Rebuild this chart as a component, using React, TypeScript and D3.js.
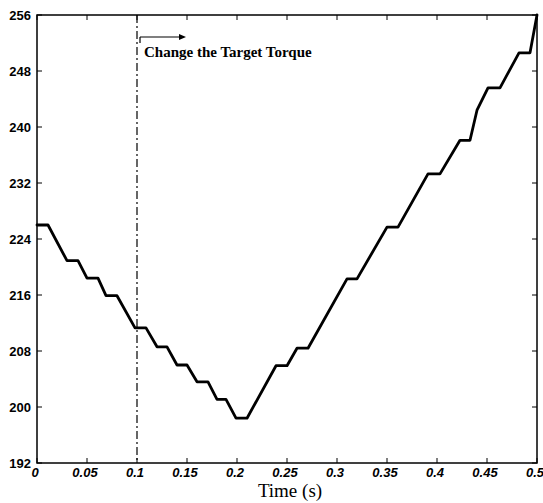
import React from "react";
import * as d3 from "d3";

const timeS = [
  0, 0.011, 0.03, 0.041, 0.05, 0.061, 0.069, 0.08, 0.098, 0.109, 0.12, 0.13,
  0.14, 0.15, 0.16, 0.171, 0.18, 0.189, 0.199, 0.21, 0.239, 0.25, 0.26,
  0.271, 0.31, 0.32, 0.35, 0.361, 0.391, 0.403, 0.423, 0.433, 0.44, 0.451,
  0.463, 0.482, 0.493, 0.5,
];
const values = [
  226, 226, 220.9, 220.9, 218.4, 218.4, 215.9, 215.9, 211.3, 211.3, 208.6,
  208.6, 206, 206, 203.6, 203.6, 201.1, 201.1, 198.4, 198.4, 205.9, 205.9,
  208.4, 208.4, 218.3, 218.3, 225.7, 225.7, 233.3, 233.3, 238.1, 238.1,
  242.4, 245.6, 245.6, 250.6, 250.6, 256,
];
const xTicks = [0, 0.05, 0.1, 0.15, 0.2, 0.25, 0.3, 0.35, 0.4, 0.45, 0.5];
const xTickLabels = ["0", "0.05", "0.1", "0.15", "0.2", "0.25", "0.3", "0.35", "0.4", "0.45", "0.5"];
const yTicks = [192, 200, 208, 216, 224, 232, 240, 248, 256];
const eventTime = 0.1;
const annotation = "Change the Target Torque";
const xLabel = "Time (s)";

export default function App() {
  const W = 543;
  const H = 503;
  const left = 37;
  const right = 537;
  const top = 15;
  const bottom = 463;
  const x = d3.scaleLinear().domain([0, 0.5]).range([left, right]);
  const y = d3.scaleLinear().domain([192, 256]).range([bottom, top]);
  const pts: [number, number][] = timeS.map((t, i) => [t, values[i]]);
  const line = d3
    .line<[number, number]>()
    .x((d) => x(d[0]))
    .y((d) => y(d[1]))
    .curve(d3.curveLinear);
  const tl = 5;
  const sans = "'Liberation Sans', Arial, sans-serif";
  const serif = "'Liberation Serif', 'Times New Roman', serif";
  const ex = x(eventTime);
  return (
    <svg
      width={W}
      height={H}
      style={{ position: "absolute", left: 0, top: 0, background: "#fff" }}
    >
      <rect x={0} y={0} width={W} height={H} fill="#fff" />
      <rect
        x={left}
        y={top}
        width={right - left}
        height={bottom - top}
        fill="none"
        stroke="#000"
        strokeWidth={1.5}
      />
      {xTicks.map((t, i) => (
        <g key={"xt" + i}>
          <line x1={x(t)} x2={x(t)} y1={bottom} y2={bottom - tl} stroke="#000" strokeWidth={1} />
          <line x1={x(t)} x2={x(t)} y1={top} y2={top + tl} stroke="#000" strokeWidth={1} />
          <text
            x={x(t) - 2}
            y={477}
            textAnchor="middle"
            fontFamily={sans}
            fontStyle="italic"
            fontWeight="bold"
            fontSize={13}
            fill="#000"
          >
            {xTickLabels[i]}
          </text>
        </g>
      ))}
      {yTicks.map((v, i) => (
        <g key={"yt" + i}>
          <line x1={left} x2={left + tl} y1={y(v)} y2={y(v)} stroke="#000" strokeWidth={1} />
          <line x1={right} x2={right - tl} y1={y(v)} y2={y(v)} stroke="#000" strokeWidth={1} />
          <text
            x={31}
            y={y(v)}
            dy="0.35em"
            textAnchor="end"
            fontFamily={sans}
            fontWeight="bold"
            fontSize={13}
            fill="#000"
          >
            {v}
          </text>
        </g>
      ))}
      <line
        x1={ex}
        x2={ex}
        y1={top}
        y2={bottom}
        stroke="#000"
        strokeWidth={1.2}
        strokeDasharray="8 3 2 3"
      />
      <line x1={ex + 3} x2={ex + 3} y1={37} y2={43} stroke="#000" strokeWidth={1.2} />
      <line x1={ex + 3} x2={ex + 44} y1={37} y2={37} stroke="#000" strokeWidth={1.2} />
      <path d={`M${ex + 49},37 L${ex + 42},34 L${ex + 42},40 Z`} fill="#000" />
      <text
        x={ex + 7}
        y={57}
        fontFamily={serif}
        fontWeight="bold"
        fontSize={15}
        fill="#000"
      >
        {annotation}
      </text>
      <path
        d={line(pts) || ""}
        fill="none"
        stroke="#000"
        strokeWidth={2.8}
        strokeLinejoin="round"
        strokeLinecap="round"
      />
      <text
        x={290}
        y={497}
        textAnchor="middle"
        fontFamily={serif}
        fontSize={19}
        fill="#000"
      >
        {xLabel}
      </text>
    </svg>
  );
}
